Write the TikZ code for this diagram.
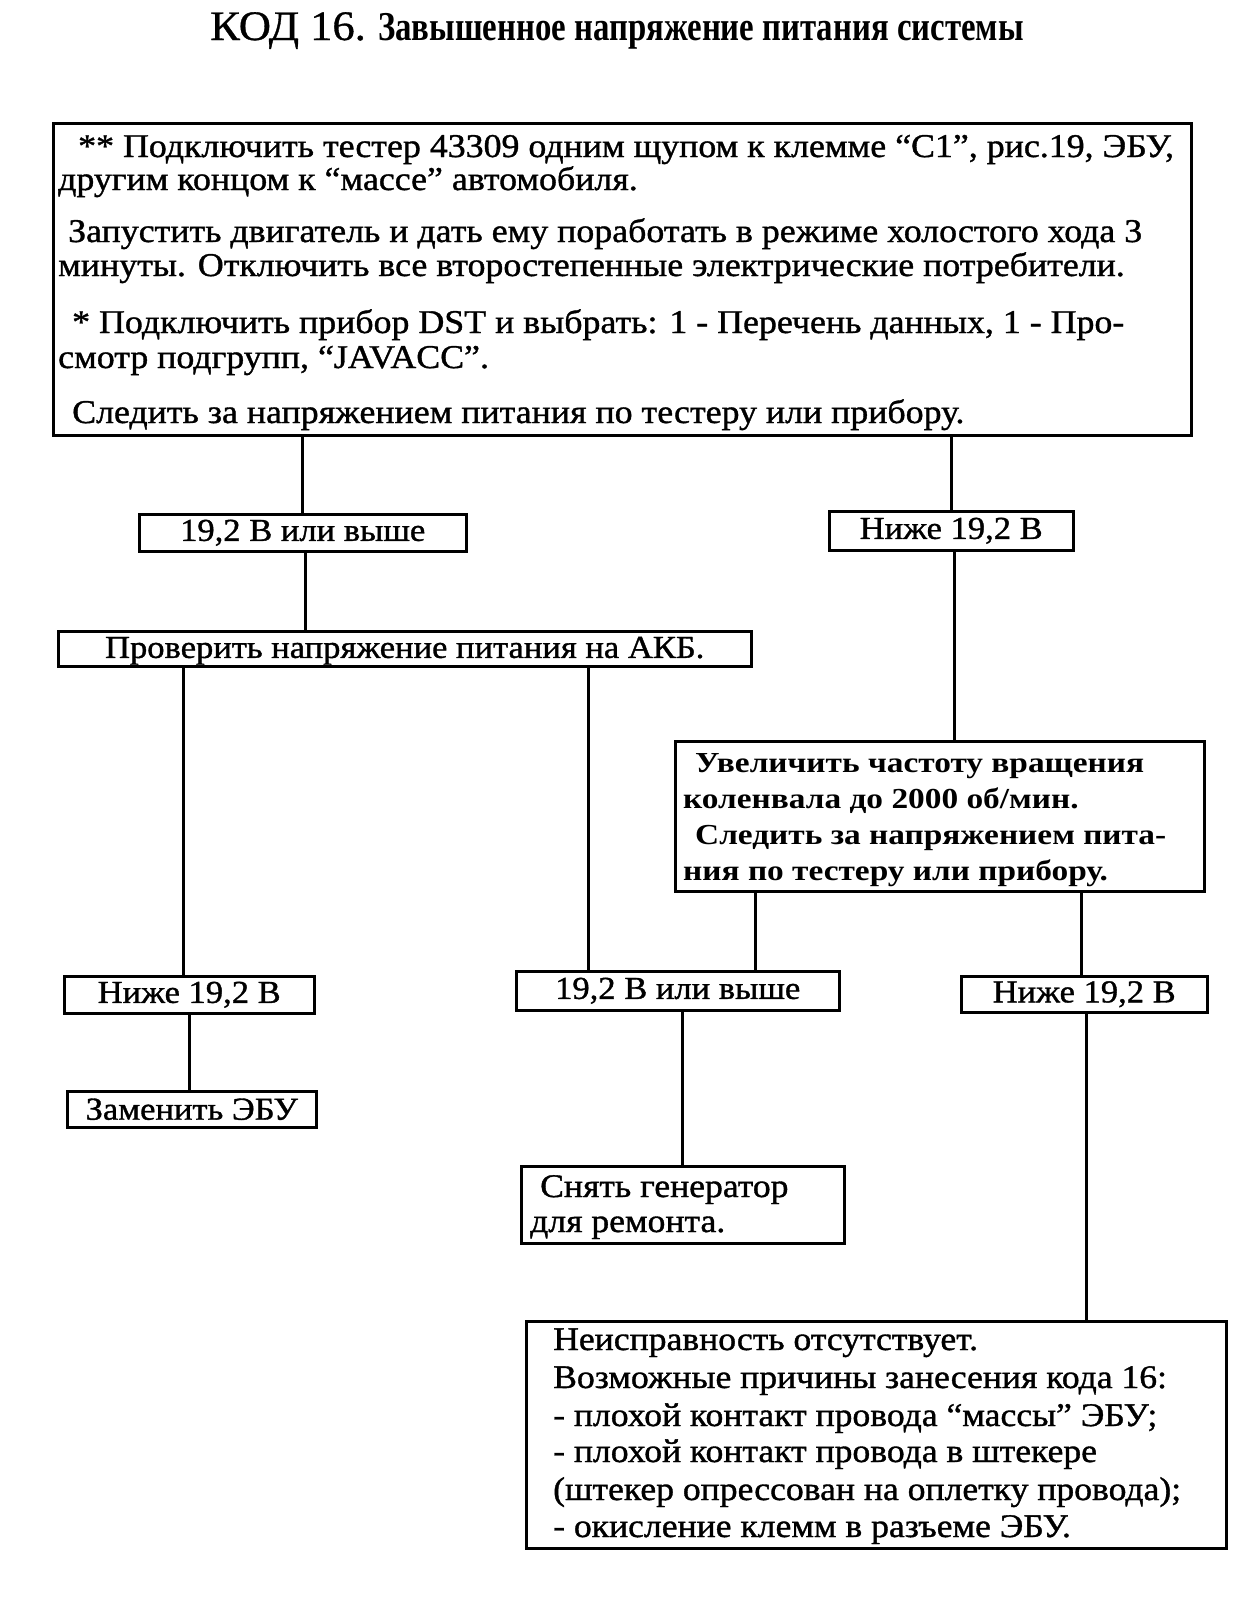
\documentclass[tikz,border=0pt]{standalone}
\usepackage{fontspec}
\setmainfont{Liberation Serif}
\newfontfamily\wide[FakeStretch=1.08,FakeBold=1.1]{Liberation Serif}
\newfontfamily\uvf[FakeStretch=1.15]{Liberation Serif Bold}
\newfontfamily\ttlb[FakeStretch=0.8]{Liberation Serif Bold}
\newfontfamily\ttla[FakeStretch=1.06,FakeBold=0.8]{Liberation Serif}
\tikzset{
  box/.style={draw, line width=2.5pt, inner sep=0pt, anchor=north west},
  conn/.style={line width=3pt},
  txt/.style={anchor=base west, inner sep=0pt, font=\wide\fontsize{33.2}{36}\selectfont},
  lbl/.style={inner sep=0pt, font=\wide\fontsize{32}{36}\selectfont},
  uvt/.style={anchor=base west, inner sep=0pt, font=\uvf\fontsize{29}{32}\selectfont},
  nt/.style={anchor=base west, inner sep=0pt, font=\wide\fontsize{33}{36}\selectfont},
}
\newcommand{\bx}[5]{\node[box, minimum width=#4pt, minimum height=#5pt] (#1) at (#2,#3) {};}
\begin{document}
\begin{tikzpicture}[x=1pt,y=-1pt]
\useasboundingbox (0,0) rectangle (1255,1601);
% title
\node[anchor=base west, inner sep=0pt, font=\ttla\fontsize{42}{44}\selectfont] (t0) at (210,40) {КОД 16.};
\node[anchor=base west, inner sep=0pt, font=\ttlb\fontsize{41}{44}\selectfont] (t00) at (378,40) {Завышенное напряжение питания системы};
% top box
\bx{top}{52}{122}{1138}{312}
\node[txt] (l1) at (78,157) {** Подключить тестер 43309 одним щупом к клемме “C1”, рис.19, ЭБУ,};
\node[txt] (l2) at (58,190) {другим концом к “массе” автомобиля.};
\node[txt] (l3) at (68,242) {Запустить двигатель и дать ему поработать в режиме холостого хода 3};
\node[txt] (l4) at (58,276) {минуты. Отключить все второстепенные электрические потребители.};
\node[txt] (l5) at (72,333) {* Подключить прибор DST и выбрать: 1 - Перечень данных, 1 - Про-};
\node[txt] (l6) at (58,368) {смотр подгрупп, “JAVACC”.};
\node[txt] (l7) at (72,423) {Следить за напряжением питания по тестеру или прибору.};
% level 1
\bx{a1}{138}{513}{327}{37}
\node[lbl] (a1t) at (a1.center) {19,2 В или выше};
\bx{b1}{828}{510}{244}{39}
\node[lbl] (b1t) at (b1.center) {Ниже 19,2 В};
\bx{akb}{57}{630}{693}{35}
\node[lbl] (akbt) at ([yshift=-2pt]akb.center) {Проверить напряжение питания на АКБ.};
% uvel
\bx{uv}{674}{740}{529}{150}
\node[uvt] (u1) at (695,772) {Увеличить частоту вращения};
\node[uvt] (u2) at (683,808) {коленвала до 2000 об/мин.};
\node[uvt] (u3) at (695,844) {Следить за напряжением пита-};
\node[uvt] (u4) at (683,880) {ния по тестеру или прибору.};
% level 3
\bx{n2}{63}{975}{250}{37}
\node[lbl] (n2t) at (n2.center) {Ниже 19,2 В};
\bx{m2}{515}{970}{323}{39}
\node[lbl] (m2t) at (m2.center) {19,2 В или выше};
\bx{n3}{960}{975}{246}{36}
\node[lbl] (n3t) at (n3.center) {Ниже 19,2 В};
% leaves
\bx{zam}{66}{1090}{249}{36}
\node[lbl] (zamt) at (zam.center) {Заменить ЭБУ};
\bx{gen}{520}{1165}{323}{77}
\node[nt] (g1) at (540,1197) {Снять генератор};
\node[nt] (g2) at (530,1232) {для ремонта.};
\bx{nei}{525}{1320}{700}{227}
\node[nt] (e1) at (553,1350) {Неисправность отсутствует.};
\node[nt] (e2) at (553,1388) {Возможные причины занесения кода 16:};
\node[nt] (e3) at (553,1426) {- плохой контакт провода “массы” ЭБУ;};
\node[nt] (e4) at (553,1462) {- плохой контакт провода в штекере};
\node[nt] (e5) at (553,1500) {(штекер опрессован на оплетку провода);};
\node[nt] (e6) at (553,1537) {- окисление клемм в разъеме ЭБУ.};
% connectors
\coordinate (xa) at (588,0);
\coordinate (xb) at (755,0);
\draw[conn] (a1.north) -- (a1.north |- top.south);
\draw[conn] (b1.north) -- (b1.north |- top.south);
\draw[conn] ([xshift=3pt]a1.south) -- ([xshift=3pt]a1.south |- akb.north);
\draw[conn] ([xshift=-6pt]n2.north) -- ([xshift=-6pt]n2.north |- akb.south);
\draw[conn] (akb.south -| xa) -- (m2.north -| xa);
\draw[conn] ([xshift=3pt]b1.south) -- ([xshift=3pt]b1.south |- uv.north);
\draw[conn] (uv.south -| xb) -- (m2.north -| xb);
\draw[conn] ([xshift=-3pt]n3.north) -- ([xshift=-3pt]n3.north |- uv.south);
\draw[conn] (n2.south) -- (n2.south |- zam.north);
\draw[conn] (gen.north) -- (gen.north |- m2.south);
\draw[conn] ([xshift=2pt]n3.south) -- ([xshift=2pt]n3.south |- nei.north);
\end{tikzpicture}
\end{document}
